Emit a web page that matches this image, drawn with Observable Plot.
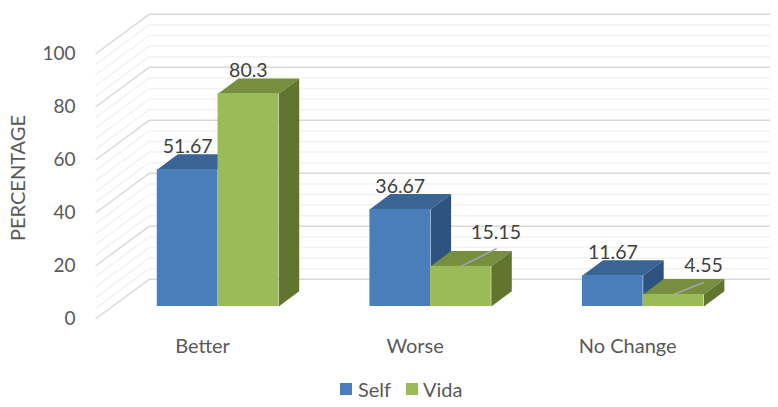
<!DOCTYPE html>
<html>
<head>
<meta charset="utf-8">
<script src="https://cdn.jsdelivr.net/npm/d3@7"></script>
<script src="https://cdn.jsdelivr.net/npm/@observablehq/plot@0.6"></script>
<style>
html,body{margin:0;padding:0;background:#fff}
#legend{height:35px;position:relative;font:20px Lato,sans-serif;color:#595959}
#legend span{position:absolute;top:7px;line-height:20px}
#legend i{position:absolute;top:11px;width:12px;height:12px}
</style>
</head>
<body>
<div id="chart"></div>
<div id="legend"></div>
<script>
const categories = ["Better", "Worse", "No Change"];
const selfValues = [51.67, 36.67, 11.67];
const vidaValues = [80.3, 15.15, 4.55];
const selfLabels = ["51.67", "36.67", "11.67"];
const vidaLabels = ["80.3", "15.15", "4.55"];
const yTicks = [0, 20, 40, 60, 80, 100];
const minorTicks = [4, 8, 12, 16, 24, 28, 32, 36, 44, 48, 52, 56, 64, 68, 72, 76, 84, 88, 92, 96];

const font = "Lato, sans-serif";
const textColor = "#595959";

// depth of the 3D box in data units (x: categories, y: percentage points)
const wallDx = 0.2493, wallDy = 14.8;   // from front of the axis wall to the back wall
const floorDy = 4.53;                   // front of the bars is lifted by this on the floor
const barDx = 0.0964, barDy = 5.78;     // bar depth
const barW = 0.2855;
const wallLeft = -0.5733, wallRight = 2.594;

const series = [
  {values: selfValues, labels: selfLabels, off: -barW, front: "#4a7ebb", top: "#3a6493", side: "#2f5380"},
  {values: vidaValues, labels: vidaLabels, off: 0, front: "#9bbb59", top: "#768e3e", side: "#62752f"}
];

const gridPath = (v) => [
  {x: wallLeft, y: v},
  {x: wallLeft + wallDx, y: v + wallDy},
  {x: wallRight, y: v + wallDy}
];
const gridMark = (ticks, stroke, w) => Plot.line(
  ticks.flatMap((t) => gridPath(t).map((p) => ({...p, t}))),
  {x: "x", y: "y", z: "t", stroke, strokeWidth: w}
);

const face = (points, fill) => Plot.line(points, {x: "x", y: "y", fill, stroke: "none"});

const barMarks = series.flatMap((s) => s.values.flatMap((v, i) => {
  const x1 = i + s.off, x2 = x1 + barW;
  const y0 = floorDy, y1 = v + floorDy;
  return [
    face([{x: x1, y: y1}, {x: x1 + barDx, y: y1 + barDy}, {x: x2 + barDx, y: y1 + barDy}, {x: x2, y: y1}], s.top),
    face([{x: x2, y: y0}, {x: x2 + barDx, y: y0 + barDy}, {x: x2 + barDx, y: y1 + barDy}, {x: x2, y: y1}], s.side),
    Plot.rect([{x1, x2, y1: y0, y2: y1}], {x1: "x1", x2: "x2", y1: "y1", y2: "y2", fill: s.front})
  ];
}));

// moved data labels, with their leader lines (x in categories, y in percentage points)
const leaderShift = [null, {dx: 0.165, dy: 6.6, ldy: 12.5}, {dx: 0.141, dy: 4.5, ldy: 11}];

const labelRows = series.flatMap((s) => s.values.map((v, i) => {
  const xc = i + s.off + barW / 2;
  const moved = s.off === 0 ? leaderShift[i] : null;
  return {
    x: xc + (moved ? moved.dx : 0),
    y: v + floorDy + (moved ? moved.ldy : 8.7),
    text: s.labels[i]
  };
}));

const leaderRows = vidaValues.flatMap((v, i) => {
  const m = leaderShift[i];
  if (!m) return [];
  const xc = i + barW / 2;
  return [{x: xc, y: v + floorDy, i}, {x: xc + m.dx, y: v + floorDy + m.dy, i}];
});

const plot = Plot.plot({
  width: 778,
  height: 372,
  marginLeft: 75,
  marginRight: 0,
  marginTop: 53,
  marginBottom: 54,
  x: {type: "linear", domain: [-0.6703, 2.6364]},
  y: {type: "linear", domain: [0, 100]},
  style: {fontFamily: font, fontSize: "18px", background: "#fff"},
  marks: [
    gridMark(minorTicks, "#f2f2f2", 1.5),
    gridMark(yTicks, "#d9d9d9", 1.5),
    ...barMarks,
    Plot.line(leaderRows, {x: "x", y: "y", z: "i", stroke: "#a6a6a6", strokeWidth: 1.5}),
    Plot.text(labelRows, {x: "x", y: "y", text: "text", fill: "#404040", fontSize: 19.5, fontFamily: font}),
    Plot.axisY({
      ticks: yTicks, tickSize: 0, tickPadding: 0, fontSize: 19, fill: textColor, fontFamily: font,
      label: null
    }),
    Plot.text(["PERCENTAGE"], {
      frameAnchor: "left", textAnchor: "middle", rotate: -90, dx: -57, dy: -8,
      fontSize: 20, fill: textColor, fontFamily: font
    }),
    Plot.axisX({
      ticks: [0, 1, 2], tickFormat: (i) => categories[i], tickSize: 0, tickPadding: 20,
      dx: -15.5, fontSize: 20, fill: textColor, fontFamily: font, label: null
    })
  ]
});
document.getElementById("chart").appendChild(plot);

const legend = document.getElementById("legend");
const entries = [["Self", series[0].front, 340, 358], ["Vida", series[1].front, 405.5, 423]];
for (const [name, color, sx, tx] of entries) {
  const sw = document.createElement("i");
  sw.style.left = sx + "px";
  sw.style.background = color;
  legend.appendChild(sw);
  const t = document.createElement("span");
  t.style.left = tx + "px";
  t.textContent = name;
  legend.appendChild(t);
}
</script>
</body>
</html>
